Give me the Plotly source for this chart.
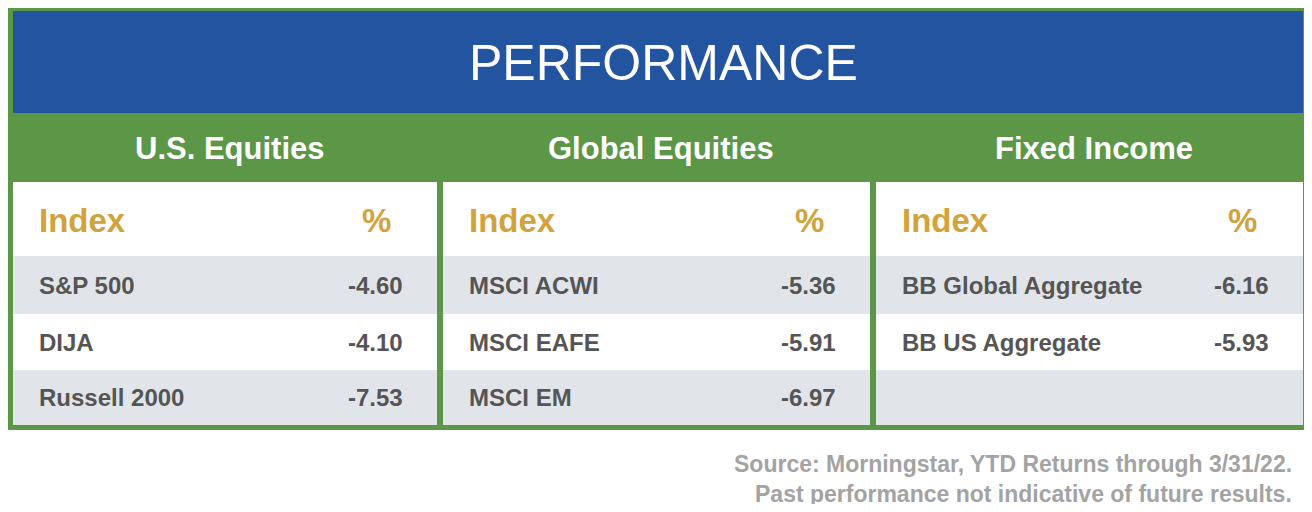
import plotly.graph_objects as go

title = "PERFORMANCE"
sections = ["U.S. Equities", "Global Equities", "Fixed Income"]
indices = [
    ["S&P 500", "DIJA", "Russell 2000"],
    ["MSCI ACWI", "MSCI EAFE", "MSCI EM"],
    ["BB Global Aggregate", "BB US Aggregate"],
]
returns = [
    [-4.60, -4.10, -7.53],
    [-5.36, -5.91, -6.97],
    [-6.16, -5.93],
]
notes = ["Source: Morningstar, YTD Returns through 3/31/22.",
         "Past performance not indicative of future results."]

GREEN = "#5b9746"
BLUE = "#2254a0"
GRAY = "#e1e5ea"
GOLD = "#d2a23c"
TEXT = "#555555"
FONT = "Liberation Sans"

# page has an 8px body margin, so the figure maps screen pixels 8..1304
W, H = 1312, 512
PAD = 8
fig = go.Figure()
shapes, ann = [], []


def rect(x0, y0, x1, y1, color):
    shapes.append(dict(type="rect", x0=x0, y0=y0, x1=x1, y1=y1,
                       fillcolor=color, line=dict(width=0), layer="below"))


def text(x, y, s, size, color, anchor="left", bold=True):
    ann.append(dict(x=x, y=y, text=f"<b>{s}</b>" if bold else s, showarrow=False,
                    xanchor=anchor, yanchor="middle",
                    font=dict(family=FONT, size=size, color=color)))


# frame
rect(0, 0, 1310, 430, GREEN)
rect(13, 11, 1303, 113, BLUE)
text(W / 2 + 7, 63, title, 50, "white", "center", bold=False)

panels = [(13, 437), (443, 870), (876, 1303)]
rows = [(256, 314), (314, 370), (370, 425)]
for i, (x0, x1) in enumerate(panels):
    text((x0 + x1) / 2 + 4, 148, sections[i], 31, "white", "center")
    rect(x0, 182, x1, 256, "white")
    for r, (y0, y1) in enumerate(rows):
        rect(x0, y0, x1, y1, GRAY if r % 2 == 0 else "white")
    text(x0 + 24, 220, "Index", 33, GOLD)
    text(x1 - 61, 220, "%", 33, GOLD, "center")
    for r, (name, val) in enumerate(zip(indices[i], returns[i])):
        y = (rows[r][0] + rows[r][1]) / 2
        text(x0 + 24, y, name, 24, TEXT)
        text(x1 - 32, y, f"{val:.2f}", 24, TEXT, "right")

text(1294, 464, notes[0], 23, "#a3a3a3", "right")
text(1294, 494, notes[1], 23, "#a3a3a3", "right")

fig.update_layout(
    width=W - 2 * PAD, height=H - 2 * PAD, margin=dict(l=0, r=0, t=0, b=0),
    paper_bgcolor="white", plot_bgcolor="white",
    xaxis=dict(range=[PAD, W - PAD], visible=False, fixedrange=True),
    yaxis=dict(range=[H - PAD, PAD], visible=False, fixedrange=True),
    shapes=shapes, annotations=ann, showlegend=False,
)
fig.write_html("out.html")
